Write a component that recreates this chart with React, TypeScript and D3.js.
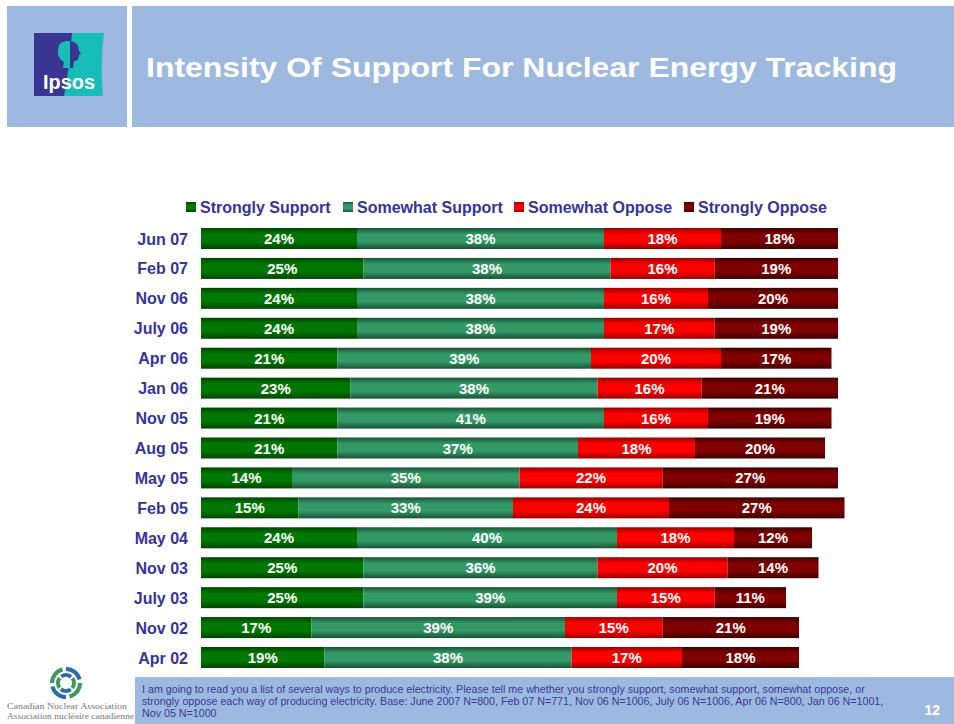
import React from "react";
import * as d3 from "d3";

const categories = ["Jun 07","Feb 07","Nov 06","July 06","Apr 06","Jan 06","Nov 05","Aug 05","May 05","Feb 05","May 04","Nov 03","July 03","Nov 02","Apr 02"];
const stronglySupport = [24,25,24,24,21,23,21,21,14,15,24,25,25,17,19];
const somewhatSupport = [38,38,38,38,39,38,41,37,35,33,40,36,39,39,38];
const somewhatOppose = [18,16,16,17,20,16,16,18,22,24,18,20,15,15,17];
const stronglyOppose = [18,19,20,19,17,21,19,20,27,27,12,14,11,21,18];
const seriesNames = ["Strongly Support","Somewhat Support","Somewhat Oppose","Strongly Oppose"];

const W = 954, H = 724;
const FONT = "'Liberation Sans', Arial, Helvetica, sans-serif";
const SERIF = "'Liberation Serif', 'DejaVu Serif', serif";
const LABEL_COLOR = "#34349c";
const colors = [
  { base: "#007800", dark: "#004400" },
  { base: "#339966", dark: "#1a5236" },
  { base: "#ff0000", dark: "#990000" },
  { base: "#800000", dark: "#3d0000" },
];

export default function App() {
  const series = [stronglySupport, somewhatSupport, somewhatOppose, stronglyOppose];
  const x = d3.scaleLinear().domain([0, 100]).range([201, 851]);
  const y = d3.scalePoint<string>().domain(categories).range([238.5, 657.5]);
  const barH = 21;

  const rows = categories.map((c, i) => {
    const vals = series.map((s) => s[i]);
    let acc = 0;
    const segs = vals.map((v, k) => {
      const s = { k, x0: acc, x1: acc + v, v };
      acc += v;
      return s;
    });
    return { c, segs };
  });

  const legendX = [186, 343, 514, 684];

  // CNA swirl: arcs
  const cx = 66, cy = 683;
  const arcGen = d3.arc();
  const swirl: { d: string; color: string }[] = [];
  for (let i = 0; i < 4; i++) {
    const base = (i * Math.PI) / 2;
    swirl.push({
      d: arcGen({ innerRadius: 12, outerRadius: 16, startAngle: base, endAngle: base + Math.PI * 0.42 }) as string,
      color: i % 2 === 0 ? "#2a6cb0" : "#3f9a5a",
    });
    swirl.push({
      d: arcGen({ innerRadius: 6, outerRadius: 10, startAngle: base + Math.PI * 0.3, endAngle: base + Math.PI * 0.72 }) as string,
      color: i % 2 === 0 ? "#3f9a5a" : "#2a6cb0",
    });
  }

  return (
    <svg width={W} height={H} style={{ position: "absolute", left: 0, top: 0, background: "#fff" }} fontFamily={FONT}>
      <defs>
        {colors.map((c, i) => (
          <linearGradient key={i} id={`g${i}`} x1="0" y1="0" x2="0" y2="1">
            <stop offset="0%" stopColor={c.dark} />
            <stop offset="30%" stopColor={c.base} />
            <stop offset="65%" stopColor={c.base} />
            <stop offset="100%" stopColor={c.dark} />
          </linearGradient>
        ))}
      </defs>
      <rect x={0} y={0} width={W} height={H} fill="#fff" />
      {/* header */}
      <rect x={7} y={6} width={120} height={121} fill="#9db9df" />
      <rect x={132} y={6} width={822} height={121} fill="#9db9df" />
      {/* Ipsos logo */}
      <g>
        <rect x={34} y={33} width={40} height={63} fill="#3a3592" />
        <path d="M72,33 L104,33 Q100,65 103,96 L64,96 Q70,65 72,33 Z" fill="#17bdb6" />
        <path d="M66,41 Q58,42 58,50 Q57,58 64,62 L63,68 L70,68 L70,41 Z" fill="#17bdb6" />
        <path d="M70,41 Q79,42 79,51 L81,54 L79,55 Q79,61 74,61 L73,68 L70,68 Z" fill="#3a3592" />
        <text x={69} y={89} textAnchor="middle" fill="#fff" fontSize={20} fontWeight="bold" textLength={52} lengthAdjust="spacingAndGlyphs">Ipsos</text>
      </g>
      <text x={146} y={77} fill="#fff" fontSize={28} fontWeight="bold" textLength={751} lengthAdjust="spacingAndGlyphs">Intensity Of Support For Nuclear Energy Tracking</text>

      {/* legend */}
      {seriesNames.map((n, i) => (
        <g key={n}>
          <rect x={legendX[i]} y={202} width={10} height={10} fill={`url(#g${i})`} />
          <text x={legendX[i] + 14} y={212.5} fill={LABEL_COLOR} fontSize={16} fontWeight="bold">{n}</text>
        </g>
      ))}

      {/* bars */}
      {rows.map((r) => {
        const cyR = y(r.c)!;
        return (
          <g key={r.c}>
            <text x={188} y={cyR + 6} textAnchor="end" fill={LABEL_COLOR} fontSize={16} fontWeight="bold">{r.c}</text>
            {r.segs.map((s) => (
              <g key={s.k}>
                <rect x={x(s.x0)} y={cyR - barH / 2} width={x(s.x1) - x(s.x0)} height={barH} fill={`url(#g${s.k})`} />
                <text x={(x(s.x0) + x(s.x1)) / 2} y={cyR + 5.5} textAnchor="middle" fill="#fff" fontSize={15} fontWeight="bold">{s.v}%</text>
              </g>
            ))}
          </g>
        );
      })}

      {/* CNA logo */}
      <g transform={`translate(${cx},${cy})`}>
        {swirl.map((s, i) => (
          <path key={i} d={s.d} fill={s.color} />
        ))}
      </g>
      <text x={7} y={709} fill="#777" fontSize={9} fontFamily={SERIF} textLength={120} lengthAdjust="spacingAndGlyphs">Canadian Nuclear Association</text>
      <text x={7} y={719} fill="#777" fontSize={9} fontFamily={SERIF} textLength={127} lengthAdjust="spacingAndGlyphs">Association nucléaire canadienne</text>

      {/* footer */}
      <rect x={135} y={677} width={819} height={47} fill="#9db9df" />
      <text fill="#3a3a96" fontSize={10.7}>
        <tspan x={142} y={693}>I am going to read you a list of several ways to produce electricity.  Please tell me whether you strongly support, somewhat support, somewhat oppose, or</tspan>
        <tspan x={142} y={705}>strongly oppose each way of producing electricity. Base: June 2007 N=800, Feb 07 N=771, Nov 06 N=1006, July 06 N=1006, Apr 06 N=800, Jan 06 N=1001,</tspan>
        <tspan x={142} y={717}>Nov 05 N=1000</tspan>
      </text>
      <text x={940} y={715} textAnchor="end" fill="#fff" fontSize={14} fontWeight="bold">12</text>
    </svg>
  );
}
